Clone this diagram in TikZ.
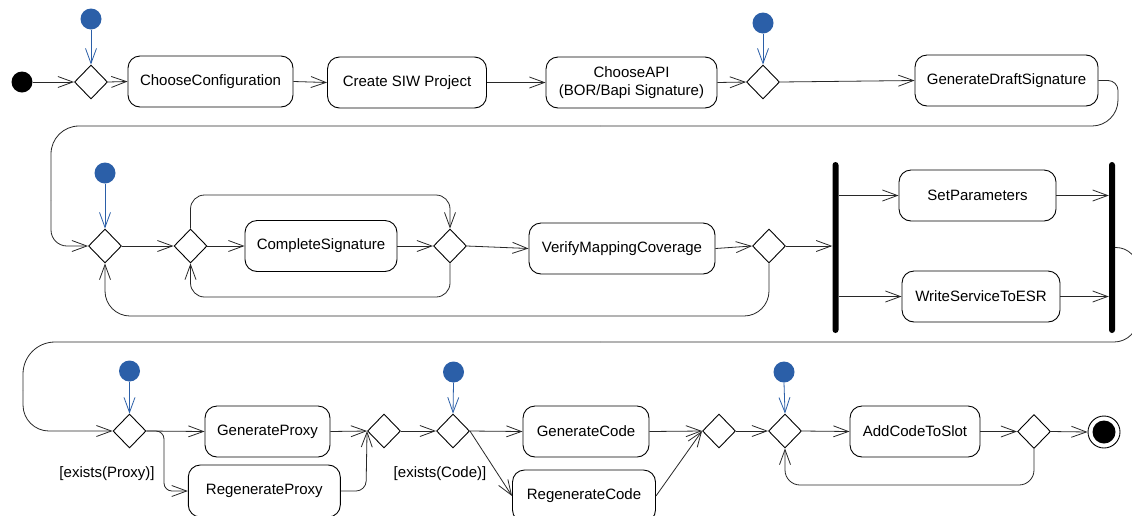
\documentclass[tikz,border=0pt]{standalone}
\usepackage{fontspec}
\setmainfont{Liberation Sans}
\usetikzlibrary{shapes.geometric,arrows.meta}
\definecolor{flowblue}{RGB}{43,95,168}
\definecolor{linegray}{RGB}{40,40,40}
\begin{document}
\begin{tikzpicture}[x=1pt,y=-1pt,
  every node/.style={font=\fontsize{15}{18}\selectfont},
  act/.style={draw=black, line width=0.9pt, rounded corners=12pt, minimum height=51pt, inner sep=0pt, align=center},
  choice/.style={draw=black, line width=0.9pt, diamond, minimum width=33pt, minimum height=34pt, inner sep=0pt},
  token/.style={circle, fill=flowblue, minimum size=21pt, inner sep=0pt},
  startdot/.style={circle, fill=black, minimum size=21pt, inner sep=0pt},
  enddot/.style={circle, draw=black, line width=0.9pt, minimum size=32pt, inner sep=0pt},
  bar/.style={fill=black, rounded corners=3pt, minimum width=6pt, minimum height=171pt, inner sep=0pt},
  link/.style={draw=linegray, line width=0.8pt},
  flow/.style={link, -{Straight Barb[length=15pt,width=11pt]}},
  feed/.style={draw=flowblue, line width=0.8pt, -{Straight Barb[length=15pt,width=11pt]}},
  guard/.style={inner sep=0pt}
]
\useasboundingbox (0,0) rectangle (1132,515);
\clip (0,0) rectangle (1132,515);
\fill[white] (0,0) rectangle (1132,515);

% ---------- row 1 ----------
\node[startdot] (start) at (22,82) {};
\node[choice] (d1) at (91,82) {};
\node[token] (b1) at (91,19) {};
\node[act, minimum width=165pt] (cc) at (210.5,81.5) {ChooseConfiguration};
\node[act, minimum width=159pt] (csiw) at (407,82.5) {Create SIW Project};
\node[act, minimum width=171pt] (api) at (631.5,82.5) {ChooseAPI\\(BOR/Bapi Signature)};
\node[choice] (d2) at (763,82) {};
\node[token] (b2) at (763,23) {};
\node[act, minimum width=183pt] (gds) at (1006.5,80.5) {GenerateDraftSignature};

% ---------- row 2 ----------
\node[choice] (d3) at (105,246) {};
\node[token] (b3) at (105,173) {};
\node[choice] (d4) at (190.5,246) {};
\node[act, minimum width=152pt] (cs) at (321,246) {CompleteSignature};
\node[choice] (d5) at (450,246) {};
\node[act, minimum width=186pt] (vmc) at (622,248.5) {VerifyMappingCoverage};
\node[choice] (d6) at (769,246) {};
\node[bar] (fork) at (835.5,247.5) {};
\node[act, minimum width=157pt] (sp) at (977.5,195.5) {SetParameters};
\node[act, minimum width=158pt] (wse) at (981,296.5) {WriteServiceToESR};
\node[bar] (join) at (1112,247.5) {};

% ---------- row 3 ----------
\node[choice] (d7) at (129.5,431) {};
\node[token] (b4) at (129.5,371) {};
\node[act, minimum width=125pt] (gp) at (267.5,431.5) {GenerateProxy};
\node[act, minimum width=152pt, minimum height=52pt] (rp) at (264.3,491) {RegenerateProxy};
\node[guard] (gproxy) at (107,474) {[exists(Proxy)]};
\node[choice] (d8) at (384,431) {};
\node[choice] (d9) at (453,431) {};
\node[token] (b5) at (453.5,372) {};
\node[act, minimum width=126pt] (gc) at (586,431.5) {GenerateCode};
\node[act, minimum width=143pt, minimum height=52pt] (rc) at (584,496) {RegenerateCode};
\node[guard] (gcode) at (440,474) {[exists(Code)]};
\node[choice] (d10) at (719,431) {};
\node[choice] (d11) at (785,431) {};
\node[token] (b6) at (784,372) {};
\node[act, minimum width=130pt] (acs) at (915,431.5) {AddCodeToSlot};
\node[choice] (d12) at (1034,431.5) {};
\node[enddot] (fin) at (1104,432) {};
\fill[black] (fin.center) circle[radius=11.5pt];

% ---------- token feeds ----------
\foreach \t/\d in {b1/d1, b2/d2, b3/d3, b4/d7, b5/d9, b6/d11}
  \draw[feed] (\t.south) -- (\d.north);

% ---------- row 1 flows ----------
\draw[flow] (start.east) -- (d1.west);
\draw[flow] (d1.east) -- (cc.west);
\draw[flow] (cc.east) -- (csiw.west);
\draw[flow] (csiw.east) -- (api.west);
\draw[flow] (api.east) -- (d2.west);
\draw[flow] (d2.east) -- (gds.west);

% wrap from row 1 to row 2
\coordinate (wa) at (1118,100);
\coordinate (wb) at (600,126);
\coordinate (wc) at (51,200);
\draw[link, rounded corners=10pt] (gds.east) -- (1118,80.5) -- (wa);
\draw[link, rounded corners=26pt] (wa) -- (1118,126) -- (wb);
\draw[link, rounded corners=28pt] (wb) -- (51,126) -- (wc);
\draw[flow, rounded corners=16pt] (wc) -- (51,246) -- (d3.west);

% ---------- row 2 flows ----------
\draw[flow] (d3.east) -- (d4.west);
\draw[flow] (d4.east) -- (cs.west);
\draw[flow] (cs.east) -- (d5.west);
\draw[flow, rounded corners=14pt] (d4.north) -- (190.5,195) -- (450,195) -- (d5.north);
\draw[flow, rounded corners=14pt] (d5.south) -- (450,297) -- (190.5,297) -- (d4.south);
\draw[flow] (d5.east) -- (vmc.west);
\draw[flow] (vmc.east) -- (d6.west);
\draw[flow, rounded corners=25pt] (d6.south) -- (769,316) -- (105,316) -- (d3.south);
\draw[flow] (d6.east) -- (d6.east -| fork.west);
\draw[flow] (fork.east |- sp.west) -- (sp.west);
\draw[flow] (fork.east |- wse.west) -- (wse.west);
\draw[flow] (sp.east) -- (sp.east -| join.west);
\draw[flow] (wse.east) -- (wse.east -| join.west);

% wrap from row 2 to row 3
\coordinate (wd) at (1138,290);
\coordinate (we) at (600,342);
\coordinate (wf) at (23,390);
\draw[link, rounded corners=22pt] (join.east) -- (1138,247.5) -- (wd);
\draw[link, rounded corners=24pt] (wd) -- (1138,342) -- (we);
\draw[link, rounded corners=32pt] (we) -- (23,342) -- (wf);
\draw[flow, rounded corners=26pt] (wf) -- (23,431) -- (d7.west);

% ---------- row 3 flows ----------
\draw[flow] (d7.east) -- (gp.west);
\draw[flow, rounded corners=8pt] (d7.east) -- (164,431) -- (164,491) -- (rp.west);
\draw[flow] (gp.east) -- (d8.west);
\draw[flow, rounded corners=10pt] (rp.east) -- (366,491) -- (d8.west);
\draw[flow] (d8.east) -- (d9.west);
\draw[flow] (d9.east) -- (gc.west);
\draw[flow] (d9.east) -- (rc.west);
\draw[flow] (gc.east) -- (d10.west);
\draw[flow] (rc.east) -- (d10.west);
\draw[flow] (d10.east) -- (d11.west);
\draw[flow] (d11.east) -- (acs.west);
\draw[flow] (acs.east) -- (d12.west);
\draw[flow] (d12.east) -- (fin.west);
\draw[flow, rounded corners=15pt] (d12.south) -- (1034,485) -- (785,485) -- (d11.south);
\end{tikzpicture}
\end{document}
